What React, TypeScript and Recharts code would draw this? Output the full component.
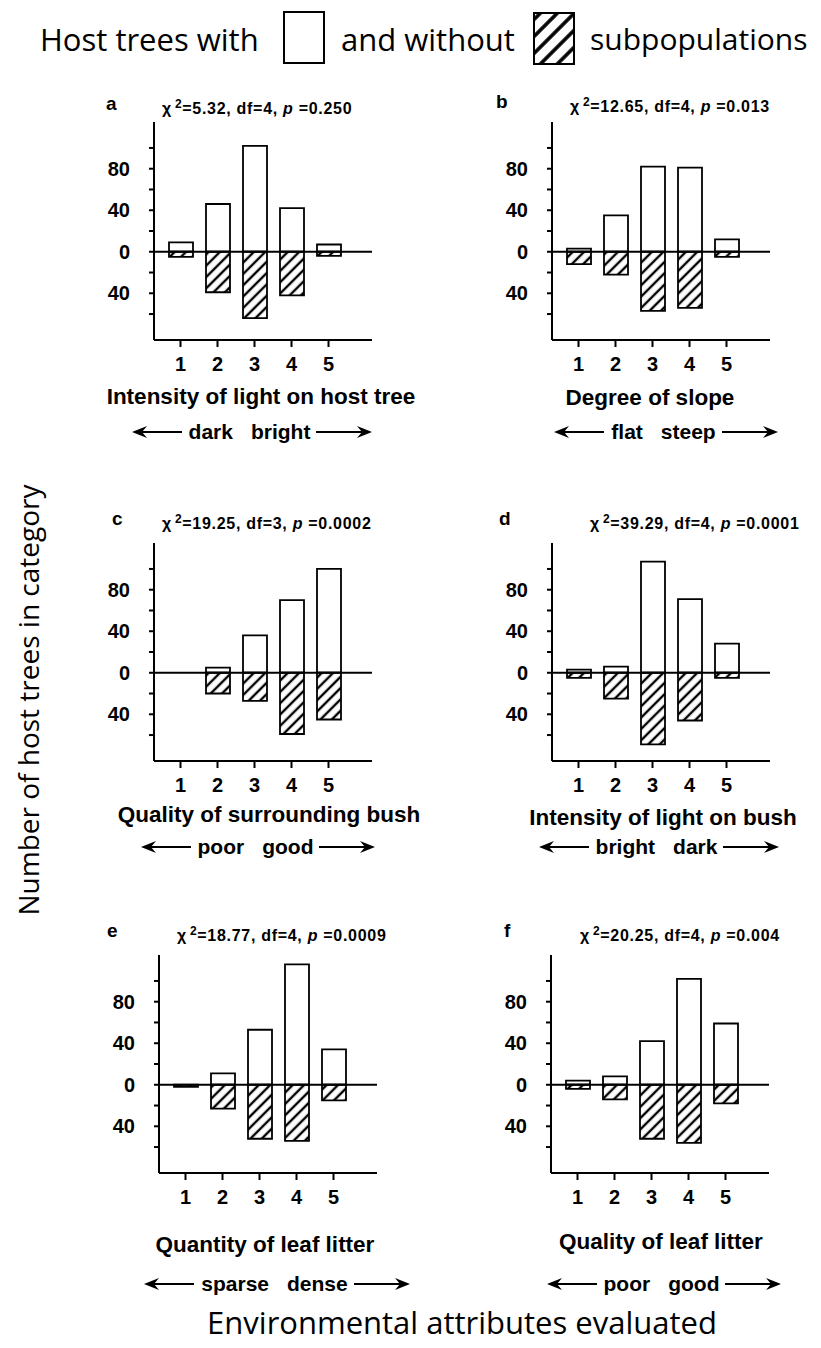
import React from 'react';
import { BarChart, Bar, XAxis, YAxis, ReferenceLine } from 'recharts';

const categories = ['1', '2', '3', '4', '5'];

// host trees with subpopulations (drawn upward)
const withA = [9, 46, 102, 42, 7];
const withB = [3, 35, 82, 81, 12];
const withC = [0, 5, 36, 70, 100];
const withD = [3, 6, 107, 71, 28];
const withE = [0, 11, 53, 116, 34];
const withF = [4, 8, 42, 102, 59];

// host trees without subpopulations (drawn downward)
const withoutA = [5, 39, 64, 42, 4];
const withoutB = [12, 22, 57, 54, 5];
const withoutC = [0, 20, 27, 59, 45];
const withoutD = [5, 25, 69, 46, 5];
const withoutE = [2, 23, 52, 54, 15];
const withoutF = [4, 14, 52, 56, 18];

const panelLetters = ['a', 'b', 'c', 'd', 'e', 'f'];
const chiValues = ['5.32', '12.65', '19.25', '39.29', '18.77', '20.25'];
const dfValues = ['4', '4', '3', '4', '4', '4'];
const pValues = ['0.250', '0.013', '0.0002', '0.0001', '0.0009', '0.004'];
const attributeLabels = [
  'Intensity of light on host tree',
  'Degree of slope',
  'Quality of surrounding bush',
  'Intensity of light on bush',
  'Quantity of leaf litter',
  'Quality of leaf litter',
];
const scaleEnds = [
  ['dark', 'bright'],
  ['flat', 'steep'],
  ['poor', 'good'],
  ['bright', 'dark'],
  ['sparse', 'dense'],
  ['poor', 'good'],
];

const yTicks = [-60, -40, -20, 0, 20, 40, 60, 80, 100];
const labelledTicks = [80, 40, 0, -40];

const withSeries = [withA, withB, withC, withD, withE, withF];
const withoutSeries = [withoutA, withoutB, withoutC, withoutD, withoutE, withoutF];

const PLOT = 218;
const Y_AXIS_W = 60;
const TOP_M = 10;

const panelFont = "'Liberation Sans', Arial, sans-serif";
const bigFont = "'Open Sans', 'Noto Sans', sans-serif";

// plot-area corner and text anchors for each panel
const layout = [
  { left: 154, top: 122, letterX: 106, headY: 104, statX: 162, labelX: 261, labelY: 397, arrowX: 252, arrowY: 432 },
  { left: 552, top: 122, letterX: 496, headY: 102, statX: 570, labelX: 650, labelY: 398, arrowX: 666, arrowY: 432 },
  { left: 154, top: 543, letterX: 112, headY: 519, statX: 162, labelX: 269, labelY: 815, arrowX: 258, arrowY: 847 },
  { left: 552, top: 543, letterX: 499, headY: 519, statX: 590, labelX: 663, labelY: 818, arrowX: 659, arrowY: 847 },
  { left: 159, top: 955, letterX: 107, headY: 931, statX: 177, labelX: 265, labelY: 1245, arrowX: 277, arrowY: 1284 },
  { left: 551, top: 955, letterX: 504, headY: 931, statX: 580, labelX: 661, labelY: 1242, arrowX: 664, arrowY: 1284 },
];

const Txt = ({ x, y, children, style, center = true }: any) => (
  <div
    style={{
      position: 'absolute',
      left: center ? x - 300 : x,
      top: y - 20,
      width: center ? 600 : undefined,
      height: 40,
      lineHeight: '40px',
      textAlign: center ? 'center' : 'left',
      whiteSpace: 'nowrap',
      color: '#000',
      ...style,
    }}
  >
    {children}
  </div>
);

const Arrow = ({ dir, len }: { dir: 'left' | 'right'; len: number }) => (
  <svg width={len} height={14} style={{ display: 'block' }}>
    {dir === 'left' ? (
      <g>
        <line x1={8} y1={7} x2={len} y2={7} stroke="#000" strokeWidth={2} />
        <polygon points="0,7 15,1 10,7 15,13" fill="#000" />
      </g>
    ) : (
      <g>
        <line x1={0} y1={7} x2={len - 8} y2={7} stroke="#000" strokeWidth={2} />
        <polygon points={`${len},7 ${len - 15},1 ${len - 10},7 ${len - 15},13`} fill="#000" />
      </g>
    )}
  </svg>
);

const yTickFormat = (v: number) => (labelledTicks.includes(v) ? String(Math.abs(v)) : '');

const tickStyle = { fill: '#000', fontSize: 20, fontWeight: 700, fontFamily: panelFont };

function Panel({ i }: { i: number }) {
  const L = layout[i];
  const data = categories.map((c, k) => ({
    cat: c,
    with: withSeries[i][k],
    without: -withoutSeries[i][k],
  }));
  return (
    <>
      <div style={{ position: 'absolute', left: L.left - Y_AXIS_W, top: L.top - TOP_M }}>
        <BarChart
          width={Y_AXIS_W + PLOT + 10}
          height={TOP_M + PLOT + 40}
          data={data}
          stackOffset="sign"
          margin={{ top: TOP_M, right: 10, bottom: 0, left: 0 }}
        >
          <XAxis
            dataKey="cat"
            interval={0}
            padding={{ left: 8, right: 25 }}
            height={40}
            tickSize={7}
            tickMargin={10}
            axisLine={{ stroke: '#000', strokeWidth: 2 }}
            tickLine={{ stroke: '#000', strokeWidth: 2 }}
            tick={tickStyle}
          />
          <YAxis
            type="number"
            domain={[-85, 125]}
            ticks={yTicks}
            interval={0}
            width={Y_AXIS_W}
            tickSize={5}
            tickMargin={19}
            tickFormatter={yTickFormat}
            axisLine={{ stroke: '#000', strokeWidth: 2 }}
            tickLine={{ stroke: '#000', strokeWidth: 2 }}
            tick={tickStyle}
          />
          <Bar dataKey="with" stackId="s" barSize={24} fill="#fff" stroke="#000" strokeWidth={1.8} isAnimationActive={false} />
          <Bar dataKey="without" stackId="s" barSize={24} fill="url(#hatch)" stroke="#000" strokeWidth={1.8} isAnimationActive={false} />
          <ReferenceLine y={0} stroke="#000" strokeWidth={1.8} />
        </BarChart>
      </div>
      <Txt x={L.letterX} y={L.headY} center={false} style={{ fontFamily: panelFont, fontWeight: 700, fontSize: 19 }}>
        {panelLetters[i]}
      </Txt>
      <Txt x={L.statX} y={L.headY} center={false} style={{ fontFamily: panelFont, fontWeight: 700, fontSize: 16, letterSpacing: 0.7 }}>
        χ<sup style={{ fontSize: 12, verticalAlign: 6, marginLeft: 3 }}>2</sup>={chiValues[i]}, df={dfValues[i]},{' '}
        <i>p</i> ={pValues[i]}
      </Txt>
      <Txt x={L.labelX} y={L.labelY} style={{ fontFamily: panelFont, fontWeight: 700, fontSize: 22.5 }}>
        {attributeLabels[i]}
      </Txt>
      <div
        style={{
          position: 'absolute',
          left: L.arrowX - 200,
          top: L.arrowY - 15,
          width: 400,
          height: 30,
          display: 'flex',
          alignItems: 'center',
          justifyContent: 'center',
          fontFamily: panelFont,
          fontWeight: 700,
          fontSize: 21,
          color: '#000',
        }}
      >
        <Arrow dir="left" len={50} />
        <span style={{ marginLeft: 7 }}>{scaleEnds[i][0]}</span>
        <span style={{ marginLeft: 18, marginRight: 6 }}>{scaleEnds[i][1]}</span>
        <Arrow dir="right" len={56} />
      </div>
    </>
  );
}

export default function App() {
  return (
    <div style={{ position: 'absolute', left: 0, top: 0, width: 821, height: 1348, background: '#fff', overflow: 'hidden' }}>
      <svg width={0} height={0} style={{ position: 'absolute' }}>
        <defs>
          <pattern id="hatch" width={8} height={8} patternUnits="userSpaceOnUse" patternTransform="rotate(45)">
            <rect width={8} height={8} fill="#fff" />
            <line x1={4} y1={0} x2={4} y2={8} stroke="#000" strokeWidth={2.4} />
          </pattern>
          <pattern id="hatchWide" width={12} height={12} patternUnits="userSpaceOnUse" patternTransform="rotate(45)">
            <rect width={12} height={12} fill="#fff" />
            <line x1={6} y1={0} x2={6} y2={12} stroke="#000" strokeWidth={3.6} />
          </pattern>
        </defs>
      </svg>

      {/* legend */}
      <Txt x={40} y={39} center={false} style={{ fontFamily: bigFont, fontSize: 31 }}>
        Host trees with
      </Txt>
      <svg style={{ position: 'absolute', left: 283, top: 11 }} width={44} height={54}>
        <rect x={1} y={1} width={40} height={51} fill="#fff" stroke="#000" strokeWidth={2} />
      </svg>
      <Txt x={341} y={39} center={false} style={{ fontFamily: bigFont, fontSize: 31 }}>
        and without
      </Txt>
      <svg style={{ position: 'absolute', left: 533, top: 12 }} width={44} height={54}>
        <rect x={1} y={1} width={40} height={51} fill="url(#hatchWide)" stroke="#000" strokeWidth={2} />
      </svg>
      <Txt x={590} y={39} center={false} style={{ fontFamily: bigFont, fontSize: 30 }}>
        subpopulations
      </Txt>

      {/* shared axis titles */}
      <div
        style={{
          position: 'absolute',
          left: 28 - 250,
          top: 700 - 20,
          width: 500,
          height: 40,
          lineHeight: '40px',
          textAlign: 'center',
          transform: 'rotate(-90deg)',
          fontFamily: bigFont,
          fontSize: 28,
          color: '#000',
          whiteSpace: 'nowrap',
        }}
      >
        Number of host trees in category
      </div>
      <Txt x={462} y={1322} style={{ fontFamily: bigFont, fontSize: 31 }}>
        Environmental attributes evaluated
      </Txt>

      {panelLetters.map((_, i) => (
        <Panel key={i} i={i} />
      ))}
    </div>
  );
}
